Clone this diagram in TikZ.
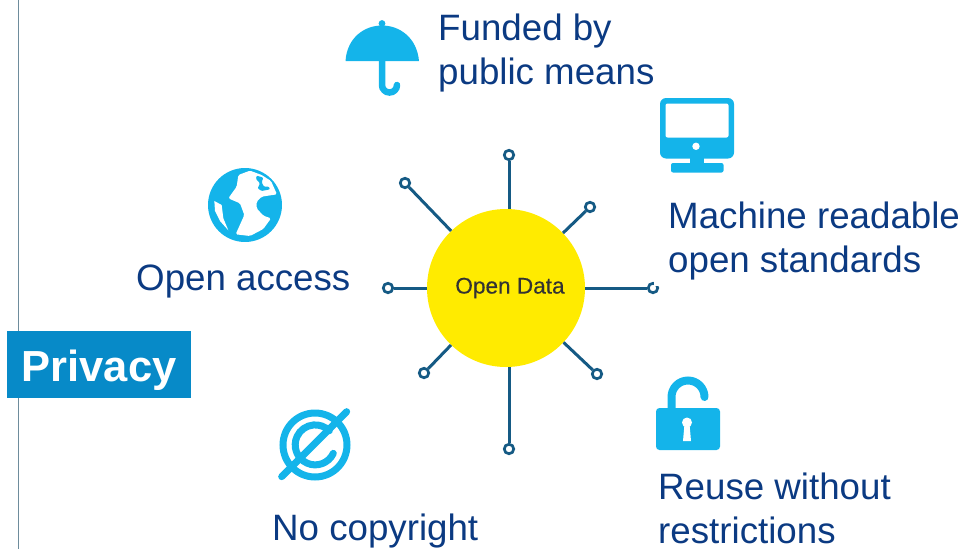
\documentclass[tikz,border=0pt]{standalone}
\usepackage{fontspec}
\setmainfont{Liberation Sans}
\newfontfamily\hubfont[FakeBold=0.4]{Liberation Sans}
\definecolor{navy}{HTML}{0B3A82}
\definecolor{sky}{HTML}{14B4EA}
\definecolor{wire}{HTML}{155A84}
\definecolor{sunc}{HTML}{FFEB00}
\definecolor{boxc}{HTML}{078AC8}
\definecolor{rulec}{HTML}{6E8C9C}
\tikzset{
  caption/.style={text=navy,anchor=north west,inner sep=0pt,align=left,font=\fontsize{36.7}{44}\selectfont},
  sat/.style={circle,draw=wire,line width=2.7pt,fill=white,minimum size=9.5pt,inner sep=0pt},
  wireline/.style={draw=wire,line width=3pt},
  icon/.style={fill=sky,draw=none},
  iconline/.style={draw=sky,line cap=round,fill=none}
}
\begin{document}
\begin{tikzpicture}[x=1pt,y=-1pt]
\useasboundingbox (0,0) rectangle (963,549);
% vertical rule
\coordinate (ruleA) at (18,0);
\coordinate (ruleB) at (18,549);
\draw[rulec,line width=1pt] (ruleA) -- (ruleB);
% privacy label
\node[fill=boxc,minimum width=184pt,minimum height=67pt,inner sep=0pt] (privacy) at (99,364.5) {};
\node[text=white,font=\fontsize{43.5}{50}\bfseries\selectfont,inner sep=0pt] (privacytext) at (99,370) {Privacy};
% hub
\node[circle,fill=sunc,minimum size=158pt,inner sep=0pt] (hub) at (506,288) {};
\node[text=black!80,font=\hubfont\fontsize{22.6}{24}\selectfont,inner sep=0pt] (hublabel) at (510,288) {Open Data};
\node[sat] (s1) at (509,155) {};
\node[sat] (s2) at (405,183) {};
\node[sat] (s3) at (590,207) {};
\node[sat] (s4) at (653,288) {};
\node[sat] (s5) at (388,288) {};
\node[sat] (s6) at (424,373) {};
\node[sat] (s7) at (597,374) {};
\node[sat] (s8) at (509,449) {};
\foreach \s in {s2,s3,s4,s5,s6,s7}{\draw[wireline] (hub) -- (\s);}
\draw[wireline] (s1 |- hub.north) -- (s1);
\draw[wireline] (s8 |- hub.south) -- (s8);
\fill[white] (654,280.5) rectangle (661,285.5);
% umbrella
\fill[icon] (345.5,61) .. controls (347,38) and (364,25.5) .. (382,25.5) .. controls (400,25.5) and (417,38) .. (419,61) -- cycle;
\fill[icon] (382,23.5) circle (3.4);
\draw[iconline,line width=6.5pt] (382,60) -- (382,85) arc[start angle=180,end angle=360,x radius=7.5,y radius=-7.5];
% monitor
\fill[icon,rounded corners=6pt] (660,98) rectangle (734,158.5);
\fill[white,rounded corners=2pt] (665.5,103.5) rectangle (728.5,137.5);
\fill[white] (696,146.3) circle (3.7);
\fill[icon] (690,157) rectangle (703.5,164);
\fill[icon,rounded corners=2pt] (671,163) rectangle (723.5,172.5);
% globe
\begin{scope}[shift={(195,155)},scale=0.3333]
\fill[icon] (150,150) circle (111);
\fill[white,rounded corners=1.5pt] (130,60) -- (165,47) -- (200,60) -- (228,78) -- (246,118) -- (200,125) -- (185,140) -- (185,160) -- (205,182) -- (228,190) -- (205,222) -- (165,243) -- (122,238) -- (148,180) -- (135,145) -- (100,130) -- (125,95) -- cycle;
\fill[icon,rounded corners=1pt] (185,62) -- (205,68) -- (200,82) -- (207,95) -- (222,95) -- (225,103) -- (200,108) -- (188,100) -- (195,85) -- (183,72) -- cycle;
\fill[white] (58,138) -- (80,150) -- (85,190) -- (100,226) -- (75,198) -- (60,168) -- cycle;
\end{scope}
% no copyright
\begin{scope}[shift={(265,395)},scale=0.3333]
\draw[iconline,line width=7pt] (150,150) circle (96);
\draw[iconline,line width=7pt] (205,175) arc[start angle=25,end angle=315,radius=60];
\draw[iconline,line width=7pt] (50,245) -- (245,50);
\end{scope}
% lock
\fill[icon,rounded corners=3.5pt] (656,408) rectangle (720,450);
\draw[iconline,line width=8pt] (671.5,410) -- (671.5,397) arc[start angle=180,end angle=360,x radius=16.5,y radius=16.5];
\fill[white] (687,422.5) circle (5);
\fill[white] (684.5,424) -- (689.5,424) -- (691,441) -- (683,441) -- cycle;
% captions
\node[caption] (c1) at (438,13.5) {Funded by\\public means};
\node[caption] (c2) at (668,202) {Machine readable\\open standards};
\node[caption] (c3) at (136,264.5) {Open access};
\node[caption] (c4) at (272,514) {No copyright};
\node[caption] (c5) at (658,473) {Reuse without\\restrictions};
\end{tikzpicture}
\end{document}
